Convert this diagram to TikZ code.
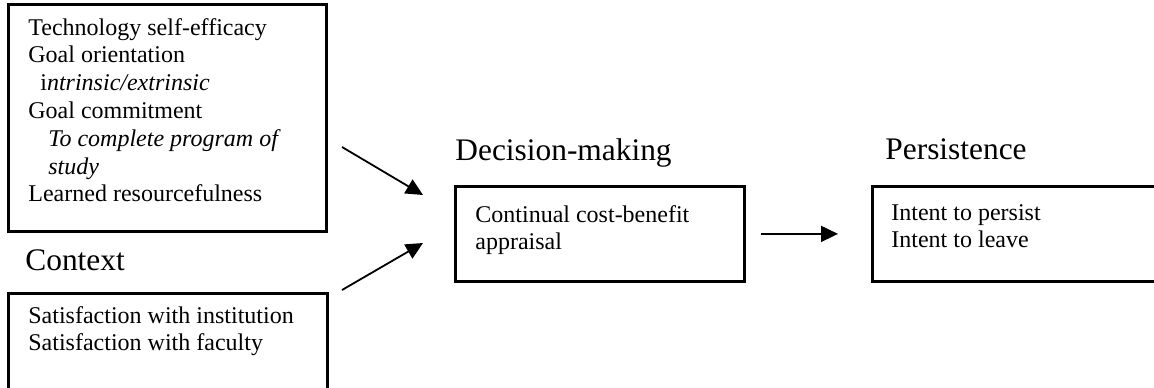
\documentclass[tikz,border=0pt]{standalone}
\usepackage{fontspec}
\setmainfont{Liberation Serif}
\usetikzlibrary{arrows.meta}

\tikzset{
  box/.style={draw, line width=1.4pt, inner sep=0pt, anchor=north west},
  heading/.style={anchor=base west, inner sep=0pt, font=\fontsize{15.7}{18}\selectfont},
  entry/.style={anchor=base west, inner sep=0pt, font=\fontsize{12}{13.9}\selectfont},
  link/.style={-{Triangle[length=8.5pt,width=8pt]}, line width=0.9pt},
}

\begin{document}
\begin{tikzpicture}[x=0.5pt, y=-0.5pt]
    \useasboundingbox (0,0) rectangle (1154,387);

    % Boxes
    \node[box, minimum width=159pt, minimum height=113.5pt] (traits) at (7,3) {};
    \node[box, minimum width=159.5pt, minimum height=70pt] (context) at (7,292) {};
    \node[box, minimum width=144.5pt, minimum height=47.5pt] (decision) at (454,185) {};
    \node[box, minimum width=150pt, minimum height=47.5pt] (persist) at (871,185) {};

    % Headings
    \node[heading] (contexthead) at (25,270) {Context};
    \node[heading] (decisionhead) at (455,160) {Decision-making};
    \node[heading] (persisthead) at (885,159) {Persistence};

    % Box contents
    \node[entry] (traitlist) at (28,35) {\begin{tabular}[t]{@{}l@{}}
        Technology self-efficacy\\
        Goal orientation\\
        \hspace*{6pt}i\textit{ntrinsic/extrinsic}\\
        Goal commitment\\
        \hspace*{10pt}\textit{To complete program of}\\
        \hspace*{10pt}\textit{study}\\
        Learned resourcefulness
    \end{tabular}};
    \node[entry] (contextlist) at (28,323) {\begin{tabular}[t]{@{}l@{}}
        Satisfaction with institution\\
        Satisfaction with faculty
    \end{tabular}};
    \node[entry] (decisionlist) at (475,222) {\begin{tabular}[t]{@{}l@{}}
        Continual cost-benefit\\
        appraisal
    \end{tabular}};
    \node[entry] (persistlist) at (891,220) {\begin{tabular}[t]{@{}l@{}}
        Intent to persist\\
        Intent to leave
    \end{tabular}};

    % Arrows
    \coordinate (traitsout) at (342,147);
    \coordinate (contextout) at (342,290);
    \coordinate (decisionin) at (423,195);
    \coordinate (decisionin2) at (423,243);
    \draw[link] (traitsout) -- (decisionin);
    \draw[link] (contextout) -- (decisionin2);
    \draw[link, shorten <=7.5pt, shorten >=16.5pt] (decision.east) -- (persist.west);
\end{tikzpicture}
\end{document}
